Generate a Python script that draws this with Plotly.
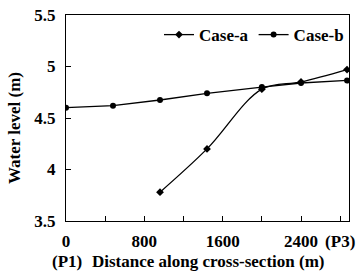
import plotly.graph_objects as go

# Data
case_a_x = [960, 1440, 2000, 2400, 2870]
case_a_y = [3.78, 4.20, 4.78, 4.85, 4.97]
case_b_x = [0, 480, 960, 1440, 2000, 2400, 2870]
case_b_y = [4.60, 4.62, 4.675, 4.74, 4.80, 4.84, 4.865]

x_tickvals = [0, 400, 800, 1200, 1600, 2000, 2400, 2800]
x_ticktext = ["0", "", "800", "", "1600", "", "2400", "(P3)"]
y_tickvals = [3.5, 4, 4.5, 5, 5.5]
y_ticktext = ["3.5", "4", "4.5", "5", "5.5"]

FONT = dict(family="Liberation Serif", size=17, color="black", weight="bold")

fig = go.Figure()
fig.add_trace(go.Scatter(
    x=case_a_x, y=case_a_y, name="Case-a", mode="lines+markers",
    line=dict(color="black", width=1.3, shape="spline", smoothing=1),
    marker=dict(symbol="diamond", size=6, color="black"),
))
fig.add_trace(go.Scatter(
    x=case_b_x, y=case_b_y, name="Case-b", mode="lines+markers",
    line=dict(color="black", width=1.3),
    marker=dict(symbol="circle", size=6, color="black"),
))

fig.update_layout(
    width=362, height=273,
    margin=dict(l=66, r=13, t=15, b=52, autoexpand=False),
    paper_bgcolor="white", plot_bgcolor="white",
    font=FONT,
    showlegend=True,
    legend=dict(orientation="h", x=1.0, y=0.99, xanchor="right", yanchor="top",
                bgcolor="rgba(0,0,0,0)", font=FONT, itemwidth=30,
                tracegroupgap=0),
    xaxis=dict(range=[0, 2890], tickvals=x_tickvals, ticktext=x_ticktext,
               ticks="inside", ticklen=5, tickcolor="black", tickwidth=1,
               showline=True, linecolor="black", linewidth=1, mirror=True,
               showgrid=False, zeroline=False, tickfont=FONT, automargin=False,
               ticklabelstandoff=5, ticklabeloverflow="allow"),
    yaxis=dict(range=[3.5, 5.5], tickvals=y_tickvals, ticktext=y_ticktext,
               ticks="inside", ticklen=5, tickcolor="black", tickwidth=1,
               showline=True, linecolor="black", linewidth=1, mirror=True,
               showgrid=False, zeroline=False, tickfont=FONT,
               ticklabelstandoff=6, automargin=False, ticklabeloverflow="allow"),
    annotations=[
        dict(text="Distance along cross-section (m)", xref="paper", yref="paper",
             x=(208 - 66) / 283, y=-(261 - 221) / 206, xanchor="center",
             yanchor="middle", showarrow=False, font=FONT),
        dict(text="(P1)", xref="paper", yref="paper", x=(67 - 66) / 283,
             y=-(261 - 221) / 206, xanchor="center", yanchor="middle",
             showarrow=False, font=FONT),
        dict(text="Water level (m)", xref="paper", yref="paper",
             x=(14 - 66) / 283, y=(221 - 128) / 206, xanchor="center",
             yanchor="middle", textangle=-90, showarrow=False, font=FONT),
    ],
)

# remove the browser's default 8px body margin so the figure sits at (0, 0)
fig.write_html("out.html",
               config={"displayModeBar": False},
               post_script="document.body.style.margin='0';"
                           "document.body.style.overflow='hidden';")
